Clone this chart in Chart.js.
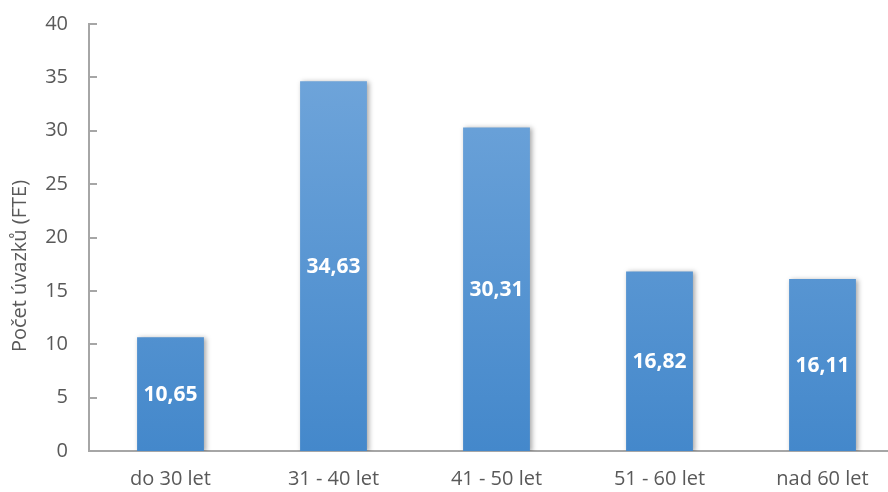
<!DOCTYPE html>
<html><head><meta charset="utf-8">
<script src="https://cdn.jsdelivr.net/npm/chart.js@4"></script>
<style>
html,body{margin:0;padding:0;overflow:hidden;background:#fff;width:888px;height:492px}
#wrap{width:912px;height:492px;position:relative}
</style></head>
<body><div id="wrap"><canvas id="c"></canvas></div>
<script>
const categories = ["do 30 let", "31 - 40 let", "41 - 50 let", "51 - 60 let", "nad 60 let"];
const values = [10.65, 34.63, 30.31, 16.82, 16.11];
const yTitle = "Počet úvazků (FTE)";
const FONT = "'Open Sans', sans-serif";
const GRAY = "#595959";
const AXIS = "#a6a6a6";

const tickMarks = {
  id: 'tickMarks',
  afterDraw(chart) {
    const ctx = chart.ctx, y = chart.scales.y;
    ctx.save();
    ctx.strokeStyle = AXIS; ctx.lineWidth = 2;
    y.ticks.forEach(t => {
      const py = Math.round(y.getPixelForValue(t.value));
      ctx.beginPath(); ctx.moveTo(y.right, py); ctx.lineTo(y.right + 8, py); ctx.stroke();
    });
    ctx.restore();
  }
};
const yTitlePlugin = {
  id: 'yTitlePlugin',
  afterDraw(chart) {
    const ctx = chart.ctx;
    ctx.save();
    ctx.translate(20, 266);
    ctx.rotate(-Math.PI / 2);
    ctx.fillStyle = GRAY; ctx.font = "20px " + FONT;
    ctx.textAlign = 'center'; ctx.textBaseline = 'middle';
    ctx.fillText(yTitle, 0, 0);
    ctx.restore();
  }
};
const shadow = {
  id: 'shadow',
  beforeDatasetDraw(chart) {
    const ctx = chart.ctx; ctx.save();
    ctx.shadowColor = 'rgba(0,0,0,0.35)'; ctx.shadowBlur = 5; ctx.shadowOffsetX = 2; ctx.shadowOffsetY = 1;
  },
  afterDatasetDraw(chart) { chart.ctx.restore(); }
};
const labels = {
  id: 'labels',
  afterDatasetsDraw(chart) {
    const ctx = chart.ctx; const meta = chart.getDatasetMeta(0);
    ctx.save();
    ctx.fillStyle = '#fff'; ctx.font = "bold 21px " + FONT;
    ctx.textAlign = 'center'; ctx.textBaseline = 'middle';
    meta.data.forEach((bar, i) => {
      const txt = values[i].toFixed(2).replace('.', ',');
      ctx.fillText(txt, bar.x, (bar.y + bar.base) / 2 + 1);
    });
    ctx.restore();
  }
};

new Chart(document.getElementById('c'), {
  type: 'bar',
  data: {
    labels: categories,
    datasets: [{
      data: values,
      backgroundColor(ctx) {
        const ca = ctx.chart.chartArea;
        if (!ca) return '#5b9bd5';
        const g = ctx.chart.ctx.createLinearGradient(0, ca.top, 0, ca.bottom);
        g.addColorStop(0, '#74a8dc');
        g.addColorStop(1, '#4488cb');
        return g;
      },
      borderWidth: 0,
      barPercentage: 0.41,
      categoryPercentage: 1
    }]
  },
  plugins: [shadow, labels, tickMarks, yTitlePlugin],
  options: {
    responsive: true, maintainAspectRatio: false, animation: false,
    layout: { padding: { top: 24, left: 0, right: 8, bottom: 0 } },
    plugins: { legend: { display: false }, tooltip: { enabled: false } },
    scales: {
      x: {
        grid: { display: false, drawTicks: false },
        border: { color: AXIS, width: 2 },
        ticks: { color: GRAY, font: { family: FONT, size: 20 }, padding: 16, maxRotation: 0 },
        afterFit(s) { s.height = 41; s.paddingLeft = 0; s.paddingRight = 0; }
      },
      y: {
        min: 0, max: 40,
        grid: { display: false, drawTicks: false },
        border: { color: AXIS, width: 2 },
        ticks: { stepSize: 5, color: GRAY, font: { family: FONT, size: 20 }, padding: 21 },
        afterFit(s) { s.width = 89; s.paddingTop = 0; s.paddingBottom = 0; }
      }
    }
  }
});
</script></body></html>
